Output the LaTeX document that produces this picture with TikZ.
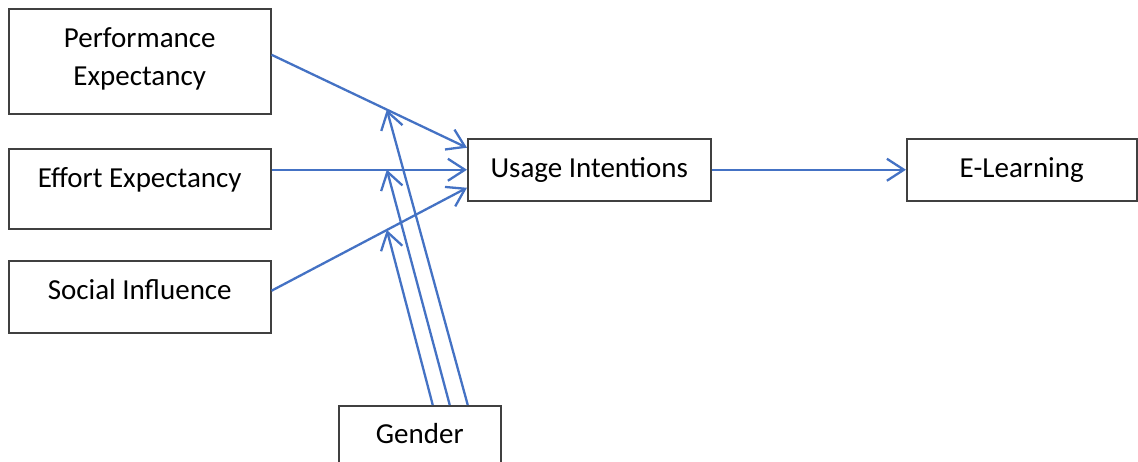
\documentclass[tikz,border=0pt]{standalone}
\usepackage{fontspec}
\setmainfont{Carlito}
\usetikzlibrary{arrows.meta, positioning}
\definecolor{lineblue}{HTML}{4472C4}
\definecolor{boxgray}{HTML}{404040}

\begin{document}
\begin{tikzpicture}[x=1pt, y=-1pt, >={Straight Barb[length=17pt, width=22pt]},
    box/.style={draw=boxgray, line width=1.5pt, inner sep=0pt, align=center, anchor=north west, font=\fontsize{29}{38}\selectfont},
    link/.style={->, draw=lineblue, line width=2.3pt}]
    \useasboundingbox (0,0) rectangle (1138,461);
    \clip (0,0) rectangle (1138,461);

    \node[box, minimum width=262pt, minimum height=105pt, text depth=9pt] (pe) at (8,8) {Performance\\Expectancy};
    \node[box, minimum width=262pt, text height=39pt, text depth=41pt] (ee) at (8,148) {Effort Expectancy};
    \node[box, minimum width=262pt, text height=39pt, text depth=33pt] (si) at (8,260) {Social Influence};
    \node[box, minimum width=243pt, text height=39pt, text depth=23pt] (ui) at (467,138) {Usage Intentions};
    \node[box, minimum width=230pt, text height=39pt, text depth=23pt] (el) at (906,138) {E-Learning};
    \node[box, minimum width=162pt, text height=38pt, text depth=30pt] (gen) at (338,405) {Gender};

    \draw[link] ([yshift=6.5pt]pe.east) -- coordinate[pos=0.59] (mpe) ([yshift=22pt]ui.west);
    \draw[link] (ee.east |- ui.west) -- coordinate[pos=0.59] (mee) (ui.west);
    \draw[link] ([yshift=6pt]si.east) -- coordinate[pos=0.59] (msi) ([yshift=-18pt]ui.west);
    \draw[link] (ui) -- (el);

    % moderating effect of gender
    \draw[link] ([xshift=48pt]gen.north) -- (mpe);
    \draw[link] ([xshift=30pt]gen.north) -- (mee);
    \draw[link] ([xshift=13pt]gen.north) -- (msi);
\end{tikzpicture}
\end{document}
